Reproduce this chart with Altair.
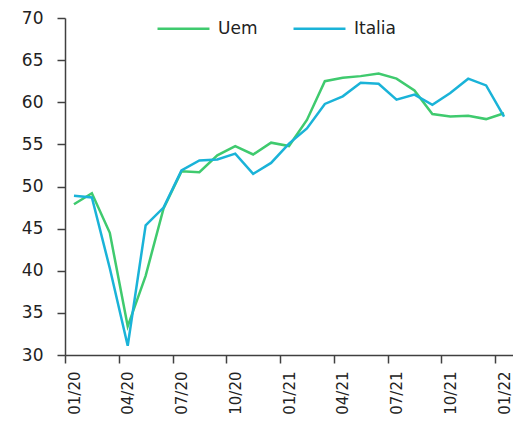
import altair as alt
import pandas as pd

months = ["01/20", "02/20", "03/20", "04/20", "05/20", "06/20", "07/20", "08/20",
          "09/20", "10/20", "11/20", "12/20", "01/21", "02/21", "03/21", "04/21",
          "05/21", "06/21", "07/21", "08/21", "09/21", "10/21", "11/21", "12/21",
          "01/22"]
uem = [47.9, 49.2, 44.5, 33.4, 39.4, 47.4, 51.8, 51.7, 53.7, 54.8, 53.8, 55.2,
       54.8, 57.9, 62.5, 62.9, 63.1, 63.4, 62.8, 61.4, 58.6, 58.3, 58.4, 58.0, 58.7]
italia = [48.9, 48.7, 40.3, 31.1, 45.4, 47.5, 51.9, 53.1, 53.2, 53.9, 51.5, 52.8,
          55.1, 56.9, 59.8, 60.7, 62.3, 62.2, 60.3, 60.9, 59.7, 61.1, 62.8, 62.0, 58.3]
series_names = ["Uem", "Italia"]
series_colors = ["#3fca6e", "#1ab3d8"]
tick_idx = list(range(0, 25, 3))
tick_labels = [months[i] for i in tick_idx]

rows = []
for i, m in enumerate(months):
    rows.append({"idx": i, "mese": m, "serie": "Uem", "valore": uem[i]})
    rows.append({"idx": i, "mese": m, "serie": "Italia", "valore": italia[i]})
df = pd.DataFrame(rows)

label_expr = "[" + ",".join("'" + t + "'" for t in tick_labels) + "][round(datum.value / 3)]"

FONT = "DejaVu Sans"
AX = "#404040"

chart = (
    alt.Chart(df)
    .transform_calculate(pos="datum.idx + 0.5")
    .mark_line(strokeWidth=2.5)
    .encode(
        x=alt.X(
            "pos:Q",
            scale=alt.Scale(domain=[0, 25], nice=False, zero=False),
            axis=alt.Axis(
                values=tick_idx,
                labelExpr=label_expr,
                labelAngle=-90,
                labelOffset=9,
                labelPadding=8,
                tickSize=8,
                title=None,
                grid=False,
                domainColor=AX,
                tickColor=AX,
                domainWidth=1.5,
                tickWidth=1.5,
                labelFont=FONT,
                labelFontSize=15,
                labelColor="#222222",
                labelFlush=False,
                labelOverlap=False,
            ),
        ),
        y=alt.Y(
            "valore:Q",
            scale=alt.Scale(domain=[30, 70], nice=False, zero=False),
            axis=alt.Axis(
                values=list(range(30, 71, 5)),
                tickSize=8,
                labelPadding=14,
                title=None,
                grid=False,
                domainColor=AX,
                tickColor=AX,
                domainWidth=1.5,
                tickWidth=1.5,
                labelFont=FONT,
                labelFontSize=17,
                labelColor="#222222",
                labelFlush=False,
                labelOverlap=False,
            ),
        ),
        color=alt.Color(
            "serie:N",
            scale=alt.Scale(domain=series_names, range=series_colors),
            sort=series_names,
            legend=alt.Legend(
                title=None,
                orient="none",
                direction="horizontal",
                legendX=91,
                legendY=-17,
                symbolType="stroke",
                symbolSize=2700,
                symbolStrokeWidth=2.5,
                labelFont=FONT,
                labelFontSize=17,
                labelColor="#222222",
                labelOffset=7,
                columnPadding=30,
            ),
        ),
        order=alt.Order("idx:Q"),
    )
    .properties(
        width=448,
        height=337,
        autosize=alt.AutoSizeParams(type="none"),
        padding={"left": 57, "top": 10, "right": 0, "bottom": 62},
    )
    .configure_view(stroke=None)
)

chart.save("out.html", embed_options={"renderer": "svg", "actions": False})
